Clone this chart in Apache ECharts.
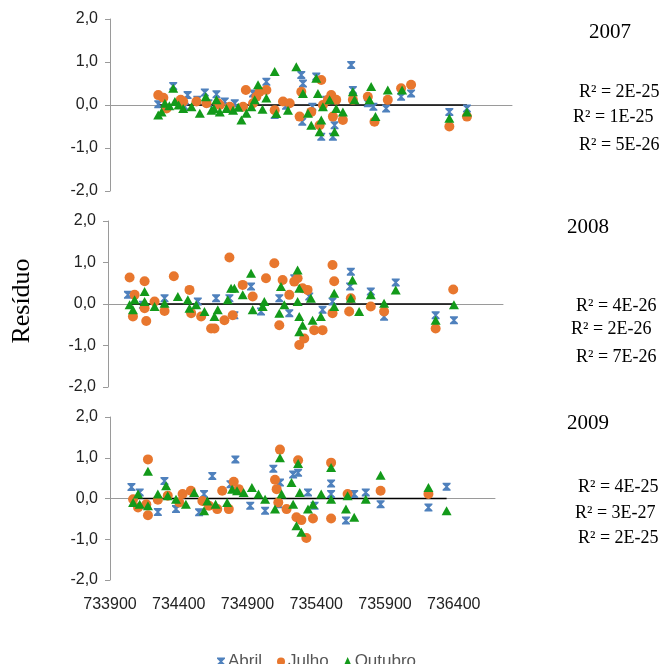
<!DOCTYPE html>
<html><head><meta charset="utf-8">
<script src="https://cdn.jsdelivr.net/npm/echarts@6/dist/echarts.min.js"></script>
<style>html,body{margin:0;padding:0;background:#fff}#c{width:662px;height:664px}</style>
</head><body><div id="c"></div>
<script>
// ---------- data ----------
const seriesNames = ['Abril', 'Julho', 'Outubro'];
const years = ['2007', '2008', '2009'];
const r2_2007 = ['R² = 2E-25', 'R² = 1E-25', 'R² = 5E-26'];
const r2_2008 = ['R² = 4E-26', 'R² = 2E-26', 'R² = 7E-26'];
const r2_2009 = ['R² = 4E-25', 'R² = 3E-27', 'R² = 2E-25'];
const xTickLabels = [733900, 734400, 734900, 735400, 735900, 736400];
const yTickLabels = [-2, -1, 0, 1, 2];

const abril2007 = [[734248,0.02],[734356,0.44],[734440,-0.04],[734460,0.23],[734530,0.12],[734610,0.04],[734584,0.29],[734668,0.25],[734728,0.08],[734800,0.04],[734932,0.27],[735028,0.54],[735088,-0.23],[735170,-0.02],[735280,0.70],[735292,0.50],[735287,-0.39],[735360,-0.04],[735388,0.66],[735424,-0.74],[735460,0.12],[735508,-0.74],[735520,-0.47],[735640,0.93],[735652,0.35],[735760,0.04],[735800,-0.04],[735892,-0.08],[736000,0.19],[736072,0.27],[736348,-0.16],[736475,-0.08]];
const julho2007 = [[734248,0.23],[734285,0.17],[734308,-0.08],[734410,0.12],[734428,0.08],[734524,0.08],[734596,0.04],[734680,0.04],[734692,0.0],[734764,-0.04],[734860,-0.04],[734880,0.35],[734932,0.04],[734956,0.19],[734980,0.31],[735028,0.35],[735088,-0.12],[735148,0.08],[735196,0.04],[735268,-0.27],[735280,0.31],[735352,-0.16],[735412,-0.47],[735424,0.58],[735436,0.0],[735472,0.12],[735496,0.23],[735508,-0.27],[735532,0.12],[735580,-0.35],[735652,0.12],[735760,0.19],[735808,-0.39],[735904,0.12],[736000,0.39],[736072,0.47],[736348,-0.50],[736475,-0.27]];
const outubro2007 = [[734248,-0.23],[734272,-0.16],[734296,0.04],[734328,-0.02],[734356,0.39],[734368,0.08],[734395,0.0],[734428,-0.08],[734488,-0.04],[734548,-0.19],[734591,0.19],[734632,-0.12],[734650,-0.08],[734668,0.12],[734692,-0.16],[734740,-0.08],[734788,-0.12],[734825,-0.05],[734848,-0.35],[734884,-0.19],[734920,-0.04],[734944,0.12],[734968,0.47],[735000,-0.10],[735028,0.16],[735088,0.78],[735100,-0.20],[735184,-0.12],[735244,0.89],[735292,0.27],[735328,-0.19],[735352,-0.47],[735388,0.62],[735400,0.27],[735424,-0.35],[735412,-0.62],[735436,-0.04],[735484,0.12],[735520,-0.62],[735532,-0.08],[735580,-0.16],[735652,0.31],[735664,0.12],[735784,0.43],[735772,0.12],[735815,-0.27],[735904,0.35],[736007,0.35],[736348,-0.31],[736475,-0.16]];

const abril2008 = [[734044,0.22],[734152,-0.02],[734308,0.14],[734548,0.06],[734680,0.14],[734776,0.14],[734812,-0.27],[734932,0.42],[735004,-0.18],[735136,0.14],[735244,0.62],[735208,-0.22],[735352,0.18],[735448,-0.14],[735520,0.06],[735652,0.78],[735647,0.42],[735796,0.30],[735892,-0.31],[735976,0.52],[736264,-0.27],[736396,-0.39]];
const julho2008 = [[734056,0.64],[734092,0.22],[734080,-0.30],[734164,0.55],[734176,-0.41],[734164,-0.10],[734236,0.06],[734308,-0.17],[734375,0.67],[734488,0.34],[734500,-0.22],[734572,-0.30],[734644,-0.59],[734668,-0.59],[734740,-0.39],[734776,1.12],[734800,-0.27],[734872,0.46],[734944,0.18],[735040,0.62],[735100,0.98],[735136,-0.51],[735160,0.58],[735208,0.22],[735244,0.54],[735268,0.62],[735280,-0.99],[735316,-0.83],[735304,0.38],[735340,0.34],[735388,-0.63],[735448,-0.63],[735520,0.94],[735532,0.55],[735520,-0.22],[735640,-0.18],[735652,0.14],[735796,-0.06],[735892,-0.18],[736264,-0.59],[736391,0.35]];
const outubro2008 = [[734056,-0.02],[734092,0.10],[734080,-0.14],[734164,0.30],[734164,0.06],[734236,-0.06],[734308,0.02],[734404,0.18],[734476,0.10],[734488,-0.10],[734536,-0.02],[734596,-0.18],[734668,-0.30],[734692,-0.14],[734764,0.10],[734788,0.38],[734812,0.38],[734872,0.22],[734932,0.74],[734944,-0.14],[735016,-0.06],[735028,0.06],[735148,0.42],[735136,-0.22],[735172,-0.02],[735268,0.82],[735280,0.38],[735268,0.06],[735280,-0.30],[735280,-0.67],[735304,-0.51],[735364,0.14],[735376,-0.39],[735436,-0.30],[735532,0.26],[735532,-0.06],[735664,0.58],[735652,0.14],[735712,-0.18],[735796,0.22],[735892,0.02],[735976,0.34],[736264,-0.39],[736396,-0.02]];

const abril2009 = [[734056,0.28],[734116,0.15],[734248,-0.33],[734296,0.43],[734380,-0.26],[734548,-0.34],[734584,0.11],[734644,0.55],[734776,0.35],[734812,0.96],[734920,-0.18],[735028,-0.30],[735088,0.73],[735136,0.39],[735124,-0.14],[735232,0.59],[735268,0.63],[735340,0.15],[735388,-0.18],[735508,0.37],[735508,0.11],[735616,-0.54],[735676,0.11],[735760,0.15],[735868,-0.14],[736216,-0.22],[736348,0.29]];
const julho2009 = [[734068,-0.02],[734104,-0.22],[734176,0.96],[734176,-0.41],[734164,-0.14],[734248,-0.03],[734320,0.07],[734404,-0.10],[734428,0.11],[734488,0.19],[734572,-0.06],[734620,-0.18],[734680,-0.26],[734716,0.19],[734764,-0.26],[734800,0.41],[734836,0.23],[735100,0.46],[735112,0.23],[735136,1.20],[735124,-0.10],[735184,-0.26],[735268,0.94],[735256,-0.46],[735292,-0.53],[735328,-0.97],[735376,-0.49],[735508,0.88],[735508,-0.49],[735628,0.11],[735868,0.19],[736216,0.11]];
const outubro2009 = [[734068,-0.10],[734104,0.11],[734116,-0.14],[734176,0.67],[734176,-0.18],[734248,0.11],[734308,0.31],[734320,0.07],[734380,-0.02],[734452,-0.14],[734512,0.15],[734584,-0.30],[734608,-0.06],[734668,-0.14],[734752,-0.10],[734788,0.23],[734824,0.19],[734872,0.15],[734932,0.27],[734980,0.11],[735028,-0.02],[735100,-0.26],[735136,1.00],[735148,0.11],[735220,0.39],[735232,-0.14],[735268,0.86],[735280,0.15],[735256,-0.67],[735292,-0.83],[735340,-0.26],[735376,-0.14],[735436,0.11],[735508,0.76],[735508,-0.02],[735616,-0.26],[735628,0.07],[735676,-0.46],[735760,-0.02],[735868,0.57],[736216,0.27],[736348,-0.30]];

// ---------- styling ----------
const COLORS = {Abril: '#4f81bd', Julho: '#e8772e', Outubro: '#139a1a'};
const HOURGLASS = 'path://M0,0 L10,0 L10,1.6 L6.4,5 L10,8.4 L10,10 L0,10 L0,8.4 L3.6,5 L0,1.6 Z';
const SYMBOLS = {Abril: HOURGLASS, Julho: 'circle', Outubro: 'triangle'};
const SIZES = {Abril: [8, 8], Julho: 10, Outubro: [10, 9]};

const panels = [
  {data: [abril2007, julho2007, outubro2007], grid: {left: 110, top: 19, width: 402, height: 172}, xMax: 736800, year: years[0], r2: r2_2007,
   yearPos: [589, 32], r2Pos: [[579, 92], [573, 117], [579, 145]]},
  {data: [abril2008, julho2008, outubro2008], grid: {left: 108, top: 221, width: 395, height: 166}, xMax: 736750, year: years[1], r2: r2_2008,
   yearPos: [567, 227], r2Pos: [[576, 306], [571, 329], [576, 357]]},
  {data: [abril2009, julho2009, outubro2009], grid: {left: 110, top: 417, width: 385, height: 163}, xMax: 736700, year: years[2], r2: r2_2009,
   yearPos: [567, 423], r2Pos: [[578, 487], [575, 513], [578, 538]]}
];

const grids = [], xAxes = [], yAxes = [], series = [], graphics = [];
const fmtY = v => v.toFixed(1).replace('.', ',');

panels.forEach((p, i) => {
  grids.push(p.grid);
  xAxes.push({
    type: 'value', gridIndex: i, min: 733900, max: p.xMax, interval: 100,
    axisLine: {onZero: true, lineStyle: {color: '#9a9a9a', width: 1}},
    axisTick: {show: false}, axisLabel: {show: false}, splitLine: {show: false}
  });
  yAxes.push({
    type: 'value', gridIndex: i, min: -2, max: 2, interval: 1,
    axisLine: {show: true, lineStyle: {color: '#9a9a9a', width: 1}},
    axisTick: {show: true, inside: false, length: 5, lineStyle: {color: '#9a9a9a'}},
    axisLabel: {formatter: fmtY, margin: 12, color: '#222', fontFamily: 'Liberation Sans', fontSize: 16},
    splitLine: {show: false}
  });
  seriesNames.forEach((name, k) => {
    series.push({
      name: name, type: 'scatter', xAxisIndex: i, yAxisIndex: i,
      data: p.data[k], symbol: SYMBOLS[name], symbolSize: SIZES[name],
      itemStyle: {color: COLORS[name], opacity: 1}, z: 2 + k
    });
  });
  const xs = [].concat(...p.data.map(d => d.map(pt => pt[0])));
  series.push({
    name: 'trend' + i, type: 'line', xAxisIndex: i, yAxisIndex: i,
    data: [[Math.min(...xs), 0], [Math.max(...xs), 0]],
    symbol: 'none', lineStyle: {color: '#000', width: 1.6}, z: 1, silent: true
  });
  graphics.push({type: 'text', x: p.yearPos[0], y: p.yearPos[1],
    style: {text: p.year, font: '21px "Liberation Serif"', fill: '#000', textVerticalAlign: 'middle'}});
  p.r2.forEach((t, j) => {
    graphics.push({type: 'text', x: p.r2Pos[j][0], y: p.r2Pos[j][1],
      style: {text: t, font: '18px "Liberation Serif"', fill: '#000', textVerticalAlign: 'middle'}});
  });
});

// bottom label axis (labels below the last panel)
xAxes.push({
  type: 'value', gridIndex: 2, min: 733900, max: panels[2].xMax, interval: 100, position: 'bottom',
  axisLine: {show: false, onZero: false}, axisTick: {show: false}, splitLine: {show: false},
  axisLabel: {margin: 17, color: '#222', fontFamily: 'Liberation Sans', fontSize: 16,
    formatter: v => xTickLabels.indexOf(Math.round(v)) >= 0 ? String(Math.round(v)) : ''}
});

graphics.push({type: 'text', x: 22, y: 301, rotation: Math.PI / 2,
  style: {text: 'Resíduo', font: '26px "Liberation Serif"', fill: '#000', textAlign: 'center', textVerticalAlign: 'middle'}});

const chart = echarts.init(document.getElementById('c'), null, {renderer: 'canvas'});
chart.setOption({
  animation: false,
  backgroundColor: '#fff',
  grid: grids, xAxis: xAxes, yAxis: yAxes, series: series, graphic: graphics,
  legend: {
    data: [
      {name: 'Abril', icon: HOURGLASS, itemStyle: {color: COLORS.Abril}},
      {name: 'Julho', icon: 'circle', itemStyle: {color: COLORS.Julho}},
      {name: 'Outubro', icon: 'triangle', itemStyle: {color: COLORS.Outubro}}
    ],
    left: 212, top: 648, itemWidth: 8, itemHeight: 9, itemGap: 15,
    textStyle: {fontFamily: 'Liberation Sans', fontSize: 17, color: '#555', padding: [0, 0, 0, -2]}
  }
});
</script></body></html>
